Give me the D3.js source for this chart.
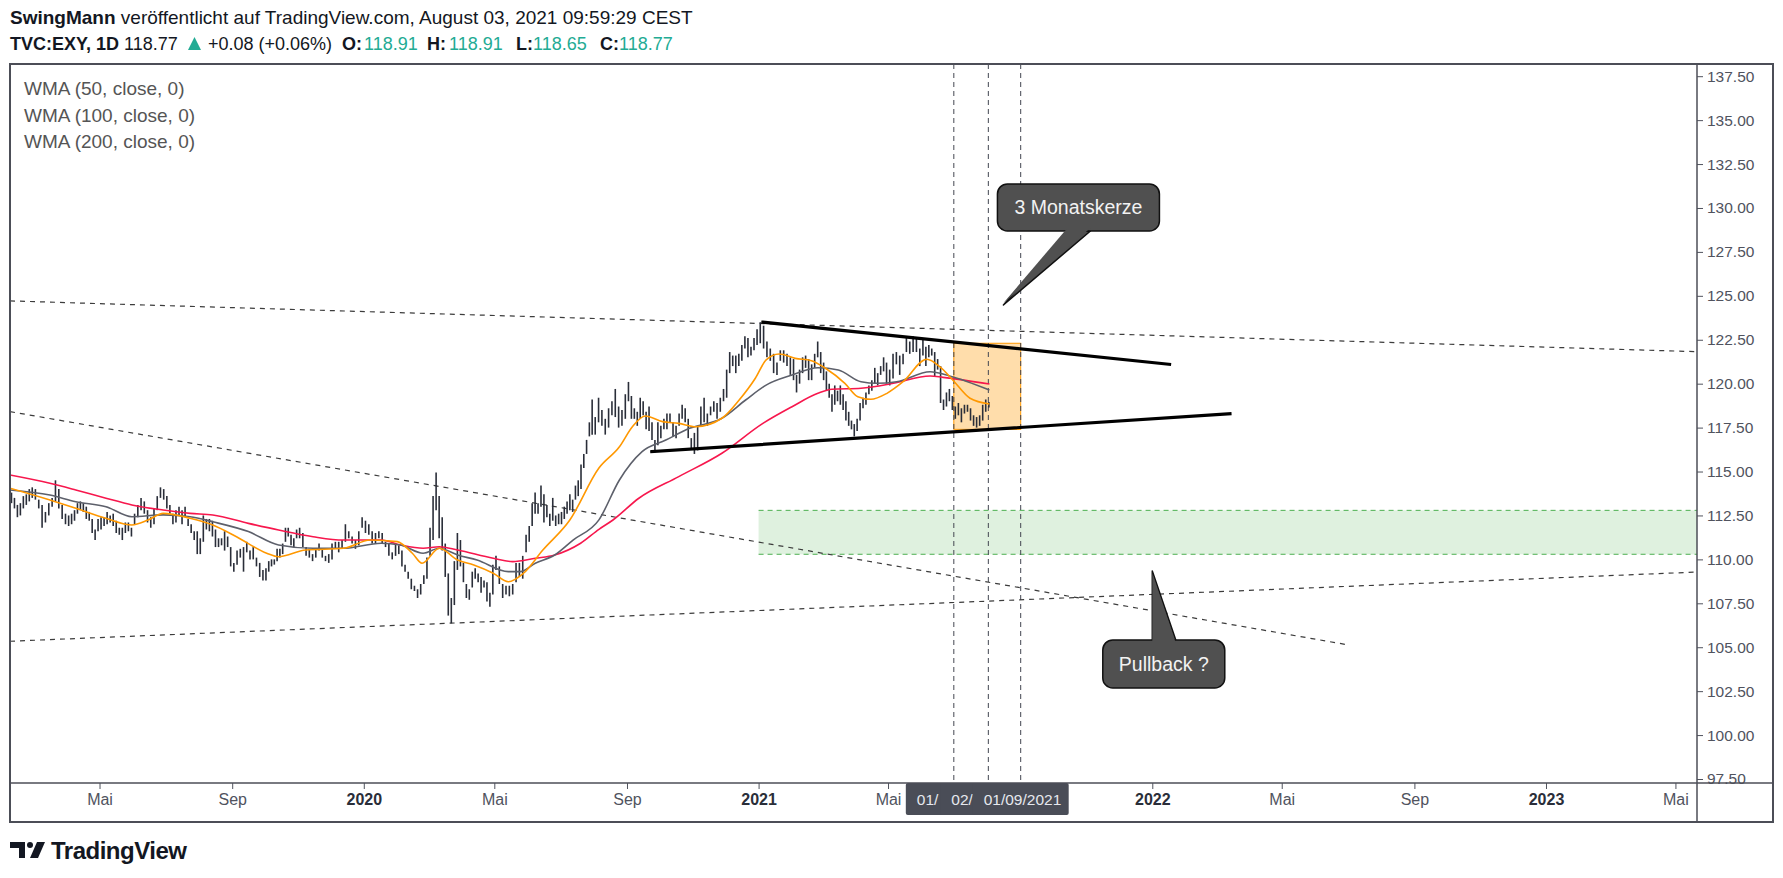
<!DOCTYPE html>
<html>
<head>
<meta charset="utf-8">
<script src="https://cdn.jsdelivr.net/npm/d3@7"></script>
<style>
  body { margin: 0; background: #fff; }
  svg text { font-family: "Liberation Sans", Arial, sans-serif; }
</style>
</head>
<body>
<div id="chart"></div>
<script>

// price bars, grouped by month, each entry is [low, high] covering ~2 trading days
const barMonths = ["2019-02","2019-03","2019-04","2019-05","2019-06","2019-07","2019-08","2019-09","2019-10","2019-11","2019-12",
  "2020-01","2020-02","2020-03","2020-04","2020-05","2020-06","2020-07","2020-08","2020-09","2020-10","2020-11","2020-12",
  "2021-01","2021-02","2021-03","2021-04","2021-05","2021-06","2021-07","2021-08"];
const firstBarDay = "2019-02-07";
const lastBarDay = "2021-08-04";

const barRanges = [
  [[113.2,113.8],[112.9,113.5],[112.4,113.1],[112.5,113.2],[112.9,113.6],[113.1,113.7],[113.3,114.0],[113.5,114.1]],
  [[113.4,114.0],[112.9,113.4],[111.8,113.1],[112.1,112.7],[112.5,113.2],[113.0,113.5],[113.3,114.5],[112.9,114.0],[112.3,113.1],[112.0,112.6]],
  [[111.9,112.5],[112.0,112.6],[112.2,112.8],[112.6,113.2],[112.8,113.3],[112.7,113.2],[112.3,113.0],[112.2,112.7],[111.5,112.3],[111.1,111.7],[111.6,112.3]],
  [[111.7,112.4],[111.9,112.4],[112.0,112.7],[112.1,112.5],[111.9,112.6],[111.5,112.2],[111.4,111.8],[111.1,111.8],[111.5,112.1],[111.6,112.1],[111.3,111.8]],
  [[112.0,112.6],[112.4,113.1],[112.8,113.5],[112.6,113.3],[112.1,112.8],[111.8,112.4],[112.0,112.9],[112.8,113.6],[113.5,114.1],[113.4,114.0]],
  [[112.9,113.6],[112.6,113.1],[112.0,112.6],[112.1,112.8],[112.5,113.0],[112.0,112.8],[112.4,113.0],[111.9,112.3],[111.5,112.0],[111.1,111.6],[110.3,111.6]],
  [[110.3,111.2],[111.0,112.5],[111.7,112.3],[111.6,112.3],[111.3,112.2],[110.7,111.7],[110.7,111.2],[110.8,111.2],[110.5,111.6],[110.7,111.3],[109.6,110.7]],
  [[109.3,109.8],[109.7,110.5],[110.1,110.6],[109.3,110.7],[110.4,111.0],[110.0,110.5],[110.0,110.7],[109.6,110.1],[109.0,109.8],[108.8,109.4]],
  [[108.8,109.5],[109.3,109.9],[109.6,110.0],[109.7,110.0],[109.9,110.6],[110.1,110.6],[110.3,110.9],[111.0,111.8],[111.3,111.8],[110.8,111.4],[110.7,111.2],[111.2,111.7]],
  [[111.2,111.8],[110.7,111.5],[110.2,110.7],[110.1,110.6],[109.9,110.3],[110.1,110.6],[110.5,110.9],[110.1,110.6],[109.9,110.2],[109.8,110.3]],
  [[110.0,110.9],[110.6,111.0],[110.4,111.0],[110.6,111.1],[111.0,112.0],[111.2,111.6],[110.9,111.3],[110.6,111.1],[110.8,111.6],[111.8,112.4]],
  [[111.5,112.2],[111.4,112.0],[110.9,111.6],[110.9,111.5],[111.2,111.6],[110.9,111.5],[110.7,111.0],[110.2,110.9],[110.0,110.4],[110.2,110.9]],
  [[110.3,110.8],[109.6,110.5],[109.3,109.7],[108.9,109.3],[108.3,108.9],[108.2,108.5],[107.8,108.3],[108.0,108.6],[108.6,109.1],[108.9,110.1]],
  [[110.2,111.8],[111.1,113.6],[112.8,114.95],[111.2,113.6],[110.5,112.4],[109.0,110.9],[106.8,109.2],[106.36,107.8],[107.4,109.9],[109.4,111.5],[109.6,111.1]],
  [[108.7,109.8],[107.8,108.6],[107.7,108.3],[108.4,109.3],[108.9,109.5],[108.7,109.2],[108.1,109.0],[108.4,108.8],[107.6,108.7],[107.3,108.1],[108.0,109.7]],
  [[109.4,110.2],[108.6,109.6],[107.8,108.6],[108.0,108.5],[107.9,108.5],[108.0,108.6],[108.7,109.8],[109.0,109.8],[108.9,110.2],[110.4,111.4]],
  [[111.0,111.9],[111.9,113.2],[112.6,113.8],[112.6,113.2],[113.0,114.2],[112.1,113.7],[112.4,113.1],[111.9,112.6],[112.2,113.5],[111.9,112.5],[112.0,112.6]],
  [[112.0,112.7],[112.3,113.0],[112.6,113.3],[112.8,113.7],[112.7,113.4],[113.4,114.2],[113.6,114.5],[114.0,115.4],[115.2,116.0],[116.0,116.8],[117.0,117.8],[117.1,119.1]],
  [[117.1,118.1],[117.8,119.2],[117.6,118.5],[117.1,118.0],[117.5,118.6],[118.2,119.0],[118.1,119.7],[117.5,118.7],[117.6,118.5],[118.0,119.4]],
  [[119.0,120.1],[118.0,119.3],[118.0,118.6],[117.6,118.4],[118.0,119.2],[118.2,119.0],[117.4,118.4],[117.3,118.7],[116.8,117.8],[116.1,116.8],[116.5,117.8]],
  [[116.9,117.6],[117.4,118.0],[117.4,118.3],[117.8,118.3],[117.0,117.8],[116.9,117.6],[117.6,118.3],[118.0,118.8],[117.8,118.6],[116.9,118.0],[116.3,116.9]],
  [[116.0,117.2],[116.2,117.6],[117.6,118.7],[117.8,119.2],[117.6,118.3],[118.2,118.7],[118.4,119.0],[118.0,118.9],[118.4,119.2],[119.0,119.7]],
  [[119.2,120.8],[120.6,121.8],[121.0,121.6],[120.6,121.6],[121.0,121.7],[121.3,122.2],[122.0,122.7],[121.5,122.6],[121.6,122.1],[121.9,122.6],[122.2,123.1]],
  [[122.3,123.5],[122.0,123.3],[121.5,122.4],[121.3,122.0],[120.6,121.7],[120.5,121.2],[121.3,121.9],[121.2,121.9],[121.0,121.7],[120.5,121.5]],
  [[120.2,121.4],[119.5,120.5],[120.0,120.8],[120.6,121.5],[120.9,121.6],[120.2,121.4],[120.2,121.1],[120.9,121.7],[121.5,122.4],[120.6,121.8]],
  [[120.2,121.2],[119.6,120.7],[119.2,120.0],[118.4,119.4],[118.8,119.9],[119.0,119.6],[118.8,119.9],[118.5,119.4],[117.9,119.0],[117.6,118.4],[117.4,117.9],[117.0,117.7]],
  [[117.3,118.0],[117.9,118.9],[118.6,119.2],[118.8,119.5],[119.4,119.9],[119.6,120.2],[120.0,120.9],[119.9,120.6],[120.5,121.0],[120.7,121.5],[120.0,121.2]],
  [[119.9,120.8],[120.3,121.7],[121.1,121.8],[120.5,121.6],[121.1,121.7],[121.8,122.6],[121.7,122.4],[121.8,122.7],[121.8,122.6],[121.0,122.0]],
  [[121.6,122.5],[121.0,122.1],[121.5,122.2],[121.6,122.0],[120.4,121.8],[120.8,121.4],[118.9,121.0],[118.5,119.1],[118.7,119.5],[119.0,119.7],[118.5,119.3]],
  [[118.0,118.7],[118.2,118.9],[117.8,118.6],[118.3,118.8],[118.4,118.8],[117.9,118.6],[117.6,118.2],[117.5,118.1],[117.6,118.2],[117.9,118.8],[118.4,119.1]],
  [[118.65,118.95]]
];

// WMA (50) - orange
const wma50 = [
  ["2019-02-07",114.05],["2019-03-16",113.38],["2019-04-09",112.91],["2019-05-07",112.34],["2019-05-31",111.96],
  ["2019-06-15",112.24],["2019-06-29",112.62],["2019-07-24",112.34],["2019-08-14",111.96],["2019-09-05",111.29],
  ["2019-10-03",110.35],["2019-10-14",110.15],["2019-11-08",110.53],["2019-12-13",110.63],["2020-01-07",111.10],
  ["2020-02-01",111.01],["2020-02-15",110.35],["2020-02-24",109.78],["2020-03-11",110.63],["2020-03-28",109.96],
  ["2020-04-12",109.68],["2020-04-30",109.21],["2020-05-14",108.73],["2020-05-28",109.21],["2020-06-15",110.53],
  ["2020-07-10",112.24],["2020-08-06",115.20],["2020-08-25",116.41],["2020-09-06",117.55],["2020-09-18",118.16],
  ["2020-10-04",117.84],["2020-10-19",117.74],["2020-11-04",117.55],["2020-11-28",118.03],["2020-12-14",119.07],
  ["2020-12-29",120.31],["2021-01-08",121.35],["2021-01-20",121.69],["2021-02-04",121.44],["2021-02-19",121.31],
  ["2021-03-04",120.88],["2021-03-22",120.02],["2021-04-03",119.26],["2021-04-15",119.11],["2021-04-30",119.45],
  ["2021-05-15",120.11],["2021-06-06",121.39],["2021-06-18",120.97],["2021-06-30",120.21],["2021-07-16",119.17],
  ["2021-08-03",118.84]
];

// WMA (100) - grey
const wma100 = [
  ["2019-02-07",113.95],["2019-03-16",113.66],["2019-04-09",113.28],["2019-05-07",113.00],["2019-05-31",112.43],
  ["2019-06-29",112.53],["2019-07-24",112.43],["2019-08-14",112.14],["2019-09-16",111.58],["2019-10-14",110.82],
  ["2019-11-15",110.63],["2019-12-13",110.63],["2020-01-17",110.92],["2020-02-04",110.82],["2020-02-25",110.35],
  ["2020-03-11",110.63],["2020-03-28",110.25],["2020-04-15",109.96],["2020-05-14",109.30],["2020-05-25",109.30],
  ["2020-06-08",109.78],["2020-06-26",110.25],["2020-07-13",111.10],["2020-08-06",112.25],["2020-08-25",114.52],
  ["2020-09-15",116.13],["2020-10-07",116.79],["2020-10-29",117.46],["2020-11-28",118.03],["2020-12-20",119.07],
  ["2021-01-08",119.92],["2021-02-01",120.49],["2021-02-25",120.91],["2021-03-16",120.78],["2021-04-06",120.11],
  ["2021-04-21",120.02],["2021-05-09",120.11],["2021-06-09",120.68],["2021-06-27",120.44],["2021-08-03",119.64]
];

// WMA (200) - red
const wma200 = [
  ["2019-02-07",114.80],["2019-03-16",114.33],["2019-04-09",113.95],["2019-05-07",113.48],["2019-05-31",113.10],
  ["2019-06-29",112.81],["2019-07-24",112.62],["2019-08-14",112.53],["2019-09-16",112.05],["2019-10-14",111.67],
  ["2019-11-15",111.29],["2019-12-13",111.10],["2020-01-17",111.10],["2020-02-04",110.82],["2020-02-25",110.63],
  ["2020-03-11",110.72],["2020-03-28",110.53],["2020-04-30",110.06],["2020-05-18",109.87],["2020-06-08",110.06],
  ["2020-06-26",110.25],["2020-07-20",110.92],["2020-08-06",111.71],["2020-08-19",112.24],["2020-09-12",113.48],
  ["2020-10-19",114.71],["2020-11-28",116.04],["2021-01-05",117.74],["2021-02-01",118.69],["2021-02-25",119.45],
  ["2021-03-10",119.68],["2021-04-06",119.74],["2021-05-06",120.02],["2021-06-09",120.44],["2021-06-21",120.36],
  ["2021-08-03",119.98]
];

// drawn objects: [startDate, startValue, endDate, endValue]
const dashedTrends = [
  ["2019-02-07",124.71,"2023-05-21",121.82],
  ["2019-02-07",118.41,"2022-07-01",105.14],
  ["2019-02-07",105.34,"2023-05-21",109.28]
];
const triangleLines = [
  ["2021-01-05",123.50,"2022-01-17",121.10],
  ["2020-09-24",116.13,"2022-03-14",118.29]
];
const candleBox = ["2021-07-01",117.40,"2021-09-01",122.30];
const pullbackZone = ["2021-01-01",110.29,"2023-05-21",112.79];
const markerDates = ["2021-07-01","2021-08-02","2021-09-01"];
// the first two labels are covered by the next one, only their start shows
const markerLabels = ["01/","02/","01/09/2021"];

const callouts = [
  {text: "3 Monatskerze", date: "2021-08-16", value: 124.48},
  {text: "Pullback ?", date: "2022-01-01", value: 109.34}
];

// axes
const priceTicks = [97.5,100,102.5,105,107.5,110,112.5,115,117.5,120,122.5,125,127.5,130,132.5,135,137.5];
const timeTicks = ["2019-05-01","2019-09-01","2020-01-01","2020-05-01","2020-09-01","2021-01-01","2021-05-01",
  "2022-01-01","2022-05-01","2022-09-01","2023-01-01","2023-05-01"];
const timeTickLabels = ["Mai","Sep","2020","Mai","Sep","2021","Mai","2022","Mai","Sep","2023","Mai"];

const legendItems = ["WMA (50, close, 0)","WMA (100, close, 0)","WMA (200, close, 0)"];
const quote = {symbol: "TVC:EXY, 1D", last: "118.77", change: "+0.08 (+0.06%)", O: "118.91", H: "118.91", L: "118.65", C: "118.77"};

// ---------- layout ----------
let width = 1783, height = 878;
let frame = {left: 10, top: 64, right: 1773, bottom: 822};
let plot = {left: 10, top: 64, right: 1697, bottom: 783};
const axisFont = '"Liberation Sans Narrow", "Liberation Sans", Arial, sans-serif';

const parse = d3.utcParse("%Y-%m-%d");

let svg = d3.select('#chart')
  .append('svg')
  .attr('width', width)
  .attr('height', height)
  .style('display', 'block');

svg.append('rect').attr('width', width).attr('height', height).attr('fill', '#fff');

const xScale = d3.scaleUtc()
  .domain([parse("2019-02-07"), parse("2023-05-21")])
  .range([plot.left, plot.right]);

const yScale = d3.scaleLinear()
  .domain([97.5, 137.5])
  .range([779, 76.2]);

svg.append('clipPath').attr('id', 'plotclip')
  .append('rect')
  .attr('x', plot.left).attr('y', plot.top)
  .attr('width', plot.right - plot.left).attr('height', plot.bottom - plot.top);

let g = svg.append('g').attr('clip-path', 'url(#plotclip)');

// green pullback zone
g.append('rect')
  .attr('x', xScale(parse(pullbackZone[0])))
  .attr('y', yScale(pullbackZone[3]))
  .attr('width', xScale(parse(pullbackZone[2])) - xScale(parse(pullbackZone[0])))
  .attr('height', yScale(pullbackZone[1]) - yScale(pullbackZone[3]))
  .attr('fill', 'rgba(76,175,80,0.18)');
[pullbackZone[1], pullbackZone[3]].forEach(v => {
  g.append('line')
    .attr('x1', xScale(parse(pullbackZone[0]))).attr('x2', xScale(parse(pullbackZone[2])))
    .attr('y1', yScale(v)).attr('y2', yScale(v))
    .attr('stroke', '#4caf50').attr('stroke-width', 1)
    .attr('stroke-dasharray', '5,4');
});

// orange 3-month candle box
g.append('rect')
  .attr('x', xScale(parse(candleBox[0])))
  .attr('y', yScale(candleBox[3]))
  .attr('width', xScale(parse(candleBox[2])) - xScale(parse(candleBox[0])))
  .attr('height', yScale(candleBox[1]) - yScale(candleBox[3]))
  .attr('fill', 'rgba(255,152,0,0.33)')
  .attr('stroke', '#ff9800').attr('stroke-width', 1);

// vertical dashed markers
markerDates.forEach(d => {
  g.append('line')
    .attr('x1', xScale(parse(d))).attr('x2', xScale(parse(d)))
    .attr('y1', plot.top).attr('y2', plot.bottom)
    .attr('stroke', '#434651').attr('stroke-width', 1)
    .attr('stroke-dasharray', '5,4');
});

// dashed trend lines
dashedTrends.forEach(t => {
  g.append('line')
    .attr('x1', xScale(parse(t[0]))).attr('y1', yScale(t[1]))
    .attr('x2', xScale(parse(t[2]))).attr('y2', yScale(t[3]))
    .attr('stroke', '#3c3c3c').attr('stroke-width', 1.2)
    .attr('stroke-dasharray', '5,5');
});

// price bars
let bars = [];
const first = parse(firstBarDay), last = parse(lastBarDay);
barMonths.forEach((m, i) => {
  let start = parse(m + "-01");
  let end = d3.utcMonth.offset(start, 1);
  if (start < first) start = first;
  if (end > last) end = last;
  const n = barRanges[i].length;
  barRanges[i].forEach((r, j) => {
    const t = new Date(+start + (j + 0.5) * (end - start) / n);
    bars.push({date: t, low: r[0], high: r[1]});
  });
});

g.selectAll('.bar')
  .data(bars)
  .enter()
  .append('line')
  .attr('class', 'bar')
  .attr('x1', d => xScale(d.date)).attr('x2', d => xScale(d.date))
  .attr('y1', d => yScale(d.low)).attr('y2', d => yScale(d.high))
  .attr('stroke', '#2a2e39')
  .attr('stroke-width', 1.6);

// WMA lines
let line = d3.line()
  .x(d => xScale(parse(d[0])))
  .y(d => yScale(d[1]))
  .curve(d3.curveMonotoneX);

[[wma200, '#f7174d'], [wma100, '#5d606b'], [wma50, '#ff9800']].forEach(([data, color]) => {
  g.append('path')
    .datum(data)
    .attr('d', line)
    .attr('fill', 'none')
    .attr('stroke', color)
    .attr('stroke-width', 1.6);
});

// triangle (thick black lines)
triangleLines.forEach(t => {
  g.append('line')
    .attr('x1', xScale(parse(t[0]))).attr('y1', yScale(t[1]))
    .attr('x2', xScale(parse(t[2]))).attr('y2', yScale(t[3]))
    .attr('stroke', '#000').attr('stroke-width', 3.2)
    .attr('stroke-linecap', 'square');
});

// callouts
function drawCallout(c, box, tail) {
  const px = xScale(parse(c.date)), py = yScale(c.value);
  const bx = px + box[0], by = py + box[1], bw = box[2], bh = box[3];
  const tailPts = [[px, py], [px + tail[0], tail[2] + py], [px + tail[1], tail[2] + py]];
  const inner = tail[2] > 0 ? 3 : -3;
  g.append('polygon')
    .attr('points', tailPts.map(p => p.join(',')).join(' '))
    .attr('fill', '#505050').attr('stroke', '#111').attr('stroke-width', 1.5)
    .attr('stroke-linejoin', 'round');
  g.append('rect')
    .attr('x', bx).attr('y', by).attr('width', bw).attr('height', bh)
    .attr('rx', 10)
    .attr('fill', '#505050').attr('stroke', '#111').attr('stroke-width', 1.5);
  g.append('polygon')
    .attr('points', [[px, py + (tail[2] > 0 ? 2 : -2)], [px + tail[0], tail[2] + py + inner], [px + tail[1], tail[2] + py + inner]]
      .map(p => p.join(',')).join(' '))
    .attr('fill', '#505050');
  g.append('text')
    .attr('x', bx + bw / 2).attr('y', by + bh / 2 + 7)
    .attr('text-anchor', 'middle')
    .attr('font-size', 19.5)
    .attr('fill', '#f2f2f2')
    .text(c.text);
}
drawCallout(callouts[0], [-6, -121, 162, 47], [64, 87, -74]);
drawCallout(callouts[1], [-49.5, 69, 122, 48], [0, 23.5, 69]);

// ---------- axes ----------
let yaxis = svg.append('g')
  .attr('transform', `translate(${plot.right},0)`)
  .call(d3.axisRight(yScale).tickValues(priceTicks).tickFormat(d3.format('.2f')).tickSize(6).tickPadding(4));
yaxis.select('.domain').remove();
yaxis.selectAll('line').attr('stroke', '#50535e');
yaxis.selectAll('text').attr('fill', '#50535e').attr('font-size', 15.5)
  .attr('font-family', axisFont);

let xaxis = svg.append('g')
  .attr('transform', `translate(0,${plot.bottom})`)
  .call(d3.axisBottom(xScale).tickValues(timeTicks.map(parse)).tickFormat((d, i) => timeTickLabels[i]).tickSize(6).tickPadding(5));
xaxis.select('.domain').remove();
xaxis.selectAll('line').attr('stroke', '#50535e');
xaxis.selectAll('text').attr('font-size', 16)
  .attr('font-family', axisFont)
  .attr('font-weight', (d, i) => /^\d{4}$/.test(timeTickLabels[i]) ? 'bold' : 'normal')
  .attr('fill', (d, i) => /^\d{4}$/.test(timeTickLabels[i]) ? '#2a2e39' : '#50535e');

// date labels of the marker lines on the time axis
markerDates.forEach((d, i) => {
  const cx = xScale(parse(d));
  svg.append('rect')
    .attr('x', cx - 48).attr('y', plot.bottom).attr('width', 96).attr('height', 32)
    .attr('rx', 2)
    .attr('fill', '#4a4d57');
  svg.append('text')
    .attr('x', cx - 37).attr('y', plot.bottom + 22)
    .attr('font-size', 15.5)
    .attr('font-family', axisFont)
    .attr('fill', '#e6e8ee')
    .text(markerLabels[i]);
});

// frame
svg.append('rect')
  .attr('x', frame.left).attr('y', frame.top)
  .attr('width', frame.right - frame.left).attr('height', frame.bottom - frame.top)
  .attr('fill', 'none').attr('stroke', '#4c4e57').attr('stroke-width', 2);
svg.append('line')
  .attr('x1', plot.right).attr('x2', plot.right).attr('y1', frame.top).attr('y2', frame.bottom)
  .attr('stroke', '#4c4e57').attr('stroke-width', 1.5);
svg.append('line')
  .attr('x1', frame.left).attr('x2', frame.right).attr('y1', plot.bottom).attr('y2', plot.bottom)
  .attr('stroke', '#4c4e57').attr('stroke-width', 1.5);

// legend
legendItems.forEach((t, i) => {
  svg.append('text')
    .attr('x', 24).attr('y', 95 + i * 26.5)
    .attr('font-size', 19)
    .attr('fill', '#555')
    .text(t);
});

// header
let h1 = svg.append('text').attr('x', 10).attr('y', 24).attr('font-size', 19).attr('fill', '#131722');
h1.append('tspan').attr('font-weight', 'bold').text('SwingMann');
h1.append('tspan').text(' veröffentlicht auf TradingView.com, August 03, 2021 09:59:29 CEST');

const teal = '#22ab94';
const headerParts = [
  {t: quote.symbol, x: 10, bold: true},
  {t: quote.last, x: 124},
  {t: quote.change, x: 208},
  {t: 'O:', x: 342, bold: true}, {t: quote.O, x: 364, color: teal},
  {t: 'H:', x: 427, bold: true}, {t: quote.H, x: 449, color: teal},
  {t: 'L:', x: 516, bold: true}, {t: quote.L, x: 533, color: teal},
  {t: 'C:', x: 600, bold: true}, {t: quote.C, x: 619, color: teal}
];
headerParts.forEach(p => {
  svg.append('text')
    .attr('x', p.x).attr('y', 50)
    .attr('font-size', 18)
    .attr('font-weight', p.bold ? 'bold' : 'normal')
    .attr('fill', p.color || '#131722')
    .text(p.t);
});
svg.append('polygon')
  .attr('points', '188,50 201,50 194.5,37')
  .attr('fill', teal);

// TradingView logo
let logo = svg.append('g').attr('fill', '#131722');
logo.append('rect').attr('x', 10).attr('y', 842).attr('width', 15).attr('height', 6);
logo.append('rect').attr('x', 19).attr('y', 842).attr('width', 6).attr('height', 16);
logo.append('circle').attr('cx', 30).attr('cy', 845).attr('r', 3);
logo.append('polygon').attr('points', '30,858 37,842 45,842 38,858');
svg.append('text')
  .attr('x', 51).attr('y', 859)
  .attr('font-size', 24)
  .attr('font-weight', 'bold')
  .attr('fill', '#131722')
  .style('letter-spacing', '-0.5px')
  .text('TradingView');
</script>
</body>
</html>
